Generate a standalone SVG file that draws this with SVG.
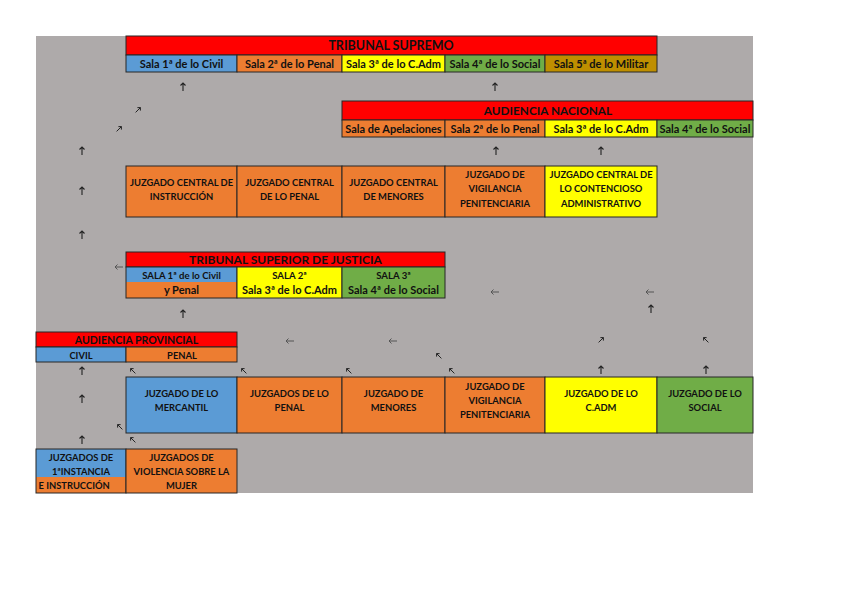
<svg xmlns="http://www.w3.org/2000/svg" xmlns:xlink="http://www.w3.org/1999/xlink" width="848" height="599" viewBox="0 0 848 599">
<style>
.c{stroke:#262626;stroke-width:1}
.r{fill:#FF0000}.b{fill:#5B9BD5}.o{fill:#ED7D31}.y{fill:#FFFF00}.g{fill:#70AD47}.m{fill:#BF8F00}
text{font-family:Lato,"Liberation Sans",sans-serif;font-weight:bold;fill:#111;text-anchor:middle}
.h{font-size:12.5px}
.h2{font-size:11.8px}
.h3{font-size:12px}
.h4{font-size:10.6px}
.s{font-size:11px}
.t{font-size:9.4px}
.u{font-size:9.6px}
.ar{fill:none;stroke:#222;stroke-width:1.1}
.al{fill:none;stroke:#555;stroke-width:1}
</style>
<defs>
<path id="a" d="M0,4V-4M-2.5,-1.5L0,-4L2.5,-1.5"/>
</defs>
<rect x="0" y="0" width="848" height="599" fill="#fff"/>
<rect x="36" y="36" width="717" height="457" fill="#AEAAAA"/>

<g id="tribunal-supremo">
<rect class="c r" x="126" y="36" width="531" height="19"/>
<text class="h" x="391" y="50">TRIBUNAL SUPREMO</text>
<rect class="c b" x="126" y="55" width="111" height="17"/>
<rect class="c o" x="237" y="55" width="105" height="17"/>
<rect class="c y" x="342" y="55" width="103" height="17"/>
<rect class="c g" x="445" y="55" width="100" height="17"/>
<rect class="c m" x="545" y="55" width="112" height="17"/>
<text class="s" x="181.5" y="67.5">Sala 1ª de lo Civil</text>
<text class="s" x="289.5" y="67.5">Sala 2ª de lo Penal</text>
<text class="s" x="393.5" y="67.5">Sala 3ª de lo C.Adm</text>
<text class="s" x="495" y="67.5">Sala 4ª de lo Social</text>
<text class="s" x="601" y="67.5">Sala 5ª de lo Militar</text>
</g>

<g id="audiencia-nacional">
<rect class="c r" x="342" y="101" width="411" height="19"/>
<text class="h2" x="548" y="115">AUDIENCIA NACIONAL</text>
<rect class="c o" x="342" y="120" width="103" height="17"/>
<rect class="c o" x="445" y="120" width="100" height="17"/>
<rect class="c y" x="545" y="120" width="112" height="17"/>
<rect class="c g" x="657" y="120" width="96" height="17"/>
<text class="s" x="393.5" y="132.5">Sala de Apelaciones</text>
<text class="s" x="495" y="132.5">Sala 2ª de lo Penal</text>
<text class="s" x="601" y="132.5">Sala 3ª de lo C.Adm</text>
<text class="s" x="705" y="132.5">Sala 4ª de lo Social</text>
</g>

<g id="juzgado-central-instruccion">
<rect class="c o" x="126" y="166" width="111" height="51"/>
<text class="t" x="181.5" y="185.5">JUZGADO CENTRAL DE</text>
<text class="t" x="181.5" y="199.5">INSTRUCCIÓN</text>
</g>
<g id="juzgado-central-penal">
<rect class="c o" x="237" y="166" width="105" height="51"/>
<text class="t" x="289.5" y="185.5">JUZGADO CENTRAL</text>
<text class="t" x="289.5" y="199.5">DE LO PENAL</text>
</g>
<g id="juzgado-central-menores">
<rect class="c o" x="342" y="166" width="103" height="51"/>
<text class="t" x="393.5" y="185.5">JUZGADO CENTRAL</text>
<text class="t" x="393.5" y="199.5">DE MENORES</text>
</g>
<g id="juzgado-vigilancia-central">
<rect class="c o" x="445" y="166" width="100" height="51"/>
<text class="t" x="495" y="177.5">JUZGADO DE</text>
<text class="t" x="495" y="192">VIGILANCIA</text>
<text class="t" x="495" y="206.5">PENITENCIARIA</text>
</g>
<g id="juzgado-central-contencioso">
<rect class="c y" x="545" y="166" width="112" height="51"/>
<text class="t" x="601" y="177.5">JUZGADO CENTRAL DE</text>
<text class="t" x="601" y="192">LO CONTENCIOSO</text>
<text class="t" x="601" y="206.5">ADMINISTRATIVO</text>
</g>

<g id="tribunal-superior-justicia">
<rect class="c r" x="126" y="252" width="319" height="15"/>
<text class="h3" x="285.5" y="264">TRIBUNAL SUPERIOR DE JUSTICIA</text>
<rect class="b" x="126" y="267" width="111" height="15"/>
<rect class="o" x="126" y="282" width="111" height="16"/>
<rect class="c" fill="none" x="126" y="267" width="111" height="31"/>
<rect class="c y" x="237" y="267" width="105" height="31"/>
<rect class="c g" x="342" y="267" width="103" height="31"/>
<text class="u" x="181.5" y="279">SALA 1ª de lo Civil</text>
<text class="s" x="181.5" y="294">y Penal</text>
<text class="u" x="289.5" y="279">SALA 2ª</text>
<text class="s" x="289.5" y="294">Sala 3ª de lo C.Adm</text>
<text class="u" x="393.5" y="279">SALA 3ª</text>
<text class="s" x="393.5" y="294">Sala 4ª de lo Social</text>
</g>

<g id="audiencia-provincial">
<rect class="c r" x="36" y="332" width="201" height="15"/>
<text class="h4" x="136.5" y="343.5">AUDIENCIA PROVINCIAL</text>
<rect class="c b" x="36" y="347" width="90" height="15"/>
<rect class="c o" x="126" y="347" width="111" height="15"/>
<text class="t" x="81" y="358.5">CIVIL</text>
<text class="t" x="182" y="358.5">PENAL</text>
</g>

<g id="juzgado-mercantil">
<rect class="c b" x="126" y="377" width="111" height="56"/>
<text class="t" x="181.5" y="396.5">JUZGADO DE LO</text>
<text class="t" x="181.5" y="410.5">MERCANTIL</text>
</g>
<g id="juzgados-penal">
<rect class="c o" x="237" y="377" width="105" height="56"/>
<text class="t" x="289.5" y="396.5">JUZGADOS DE LO</text>
<text class="t" x="289.5" y="410.5">PENAL</text>
</g>
<g id="juzgado-menores">
<rect class="c o" x="342" y="377" width="103" height="56"/>
<text class="t" x="393.5" y="396.5">JUZGADO DE</text>
<text class="t" x="393.5" y="410.5">MENORES</text>
</g>
<g id="juzgado-vigilancia">
<rect class="c o" x="445" y="377" width="100" height="56"/>
<text class="t" x="495" y="389.5">JUZGADO DE</text>
<text class="t" x="495" y="403.5">VIGILANCIA</text>
<text class="t" x="495" y="417.5">PENITENCIARIA</text>
</g>
<g id="juzgado-cadm">
<rect class="c y" x="545" y="377" width="112" height="56"/>
<text class="t" x="601" y="396.5">JUZGADO DE LO</text>
<text class="t" x="601" y="410.5">C.ADM</text>
</g>
<g id="juzgado-social">
<rect class="c g" x="657" y="377" width="96" height="56"/>
<text class="t" x="705" y="396.5">JUZGADO DE LO</text>
<text class="t" x="705" y="410.5">SOCIAL</text>
</g>

<g id="juzgados-primera-instancia">
<rect class="b" x="36" y="449" width="90" height="28"/>
<rect class="o" x="36" y="477" width="90" height="16"/>
<rect class="c" fill="none" x="36" y="449" width="90" height="44"/>
<text class="t" x="81" y="460.5">JUZGADOS DE</text>
<text class="t" x="81" y="474.5">1ªINSTANCIA</text>
<text class="t" x="38.5" y="488.5" style="text-anchor:start">E INSTRUCCIÓN</text>
</g>
<g id="juzgados-violencia">
<rect class="c o" x="126" y="449" width="111" height="44"/>
<text class="t" x="181.5" y="460.5">JUZGADOS DE</text>
<text class="t" x="181.5" y="474.5">VIOLENCIA SOBRE LA</text>
<text class="t" x="181.5" y="488.5">MUJER</text>
</g>

<g id="connectors" class="ar">
<use xlink:href="#a" transform="translate(183,87)"/>
<use xlink:href="#a" transform="translate(495,87)"/>
<use xlink:href="#a" transform="translate(138,110) rotate(45) scale(0.85)"/>
<use xlink:href="#a" transform="translate(119,129) rotate(45) scale(0.85)"/>
<use xlink:href="#a" transform="translate(82,151)"/>
<use xlink:href="#a" transform="translate(496,151)"/>
<use xlink:href="#a" transform="translate(601,151)"/>
<use xlink:href="#a" transform="translate(82,191)"/>
<use xlink:href="#a" transform="translate(82,235)"/>
<use xlink:href="#a" class="al" transform="translate(119,267) rotate(-90)"/>
<use xlink:href="#a" class="al" transform="translate(495,292) rotate(-90)"/>
<use xlink:href="#a" class="al" transform="translate(650,292) rotate(-90)"/>
<use xlink:href="#a" transform="translate(651,309)"/>
<use xlink:href="#a" transform="translate(183,314)"/>
<use xlink:href="#a" class="al" transform="translate(290,341) rotate(-90)"/>
<use xlink:href="#a" class="al" transform="translate(393,341) rotate(-90)"/>
<use xlink:href="#a" transform="translate(601,340) rotate(45) scale(0.85)"/>
<use xlink:href="#a" transform="translate(706,340) rotate(-45) scale(0.85)"/>
<use xlink:href="#a" transform="translate(439,356) rotate(-45) scale(0.85)"/>
<use xlink:href="#a" transform="translate(82,371)"/>
<use xlink:href="#a" transform="translate(133,371) rotate(-45) scale(0.85)"/>
<use xlink:href="#a" transform="translate(244,371) rotate(-45) scale(0.85)"/>
<use xlink:href="#a" transform="translate(349,371) rotate(-45) scale(0.85)"/>
<use xlink:href="#a" transform="translate(452,371) rotate(-45) scale(0.85)"/>
<use xlink:href="#a" transform="translate(601,370)"/>
<use xlink:href="#a" transform="translate(706,370)"/>
<use xlink:href="#a" transform="translate(82,399)"/>
<use xlink:href="#a" transform="translate(120,427) rotate(-45) scale(0.85)"/>
<use xlink:href="#a" transform="translate(82,440)"/>
<use xlink:href="#a" transform="translate(133,440) rotate(-45) scale(0.85)"/>
</g>
</svg>
